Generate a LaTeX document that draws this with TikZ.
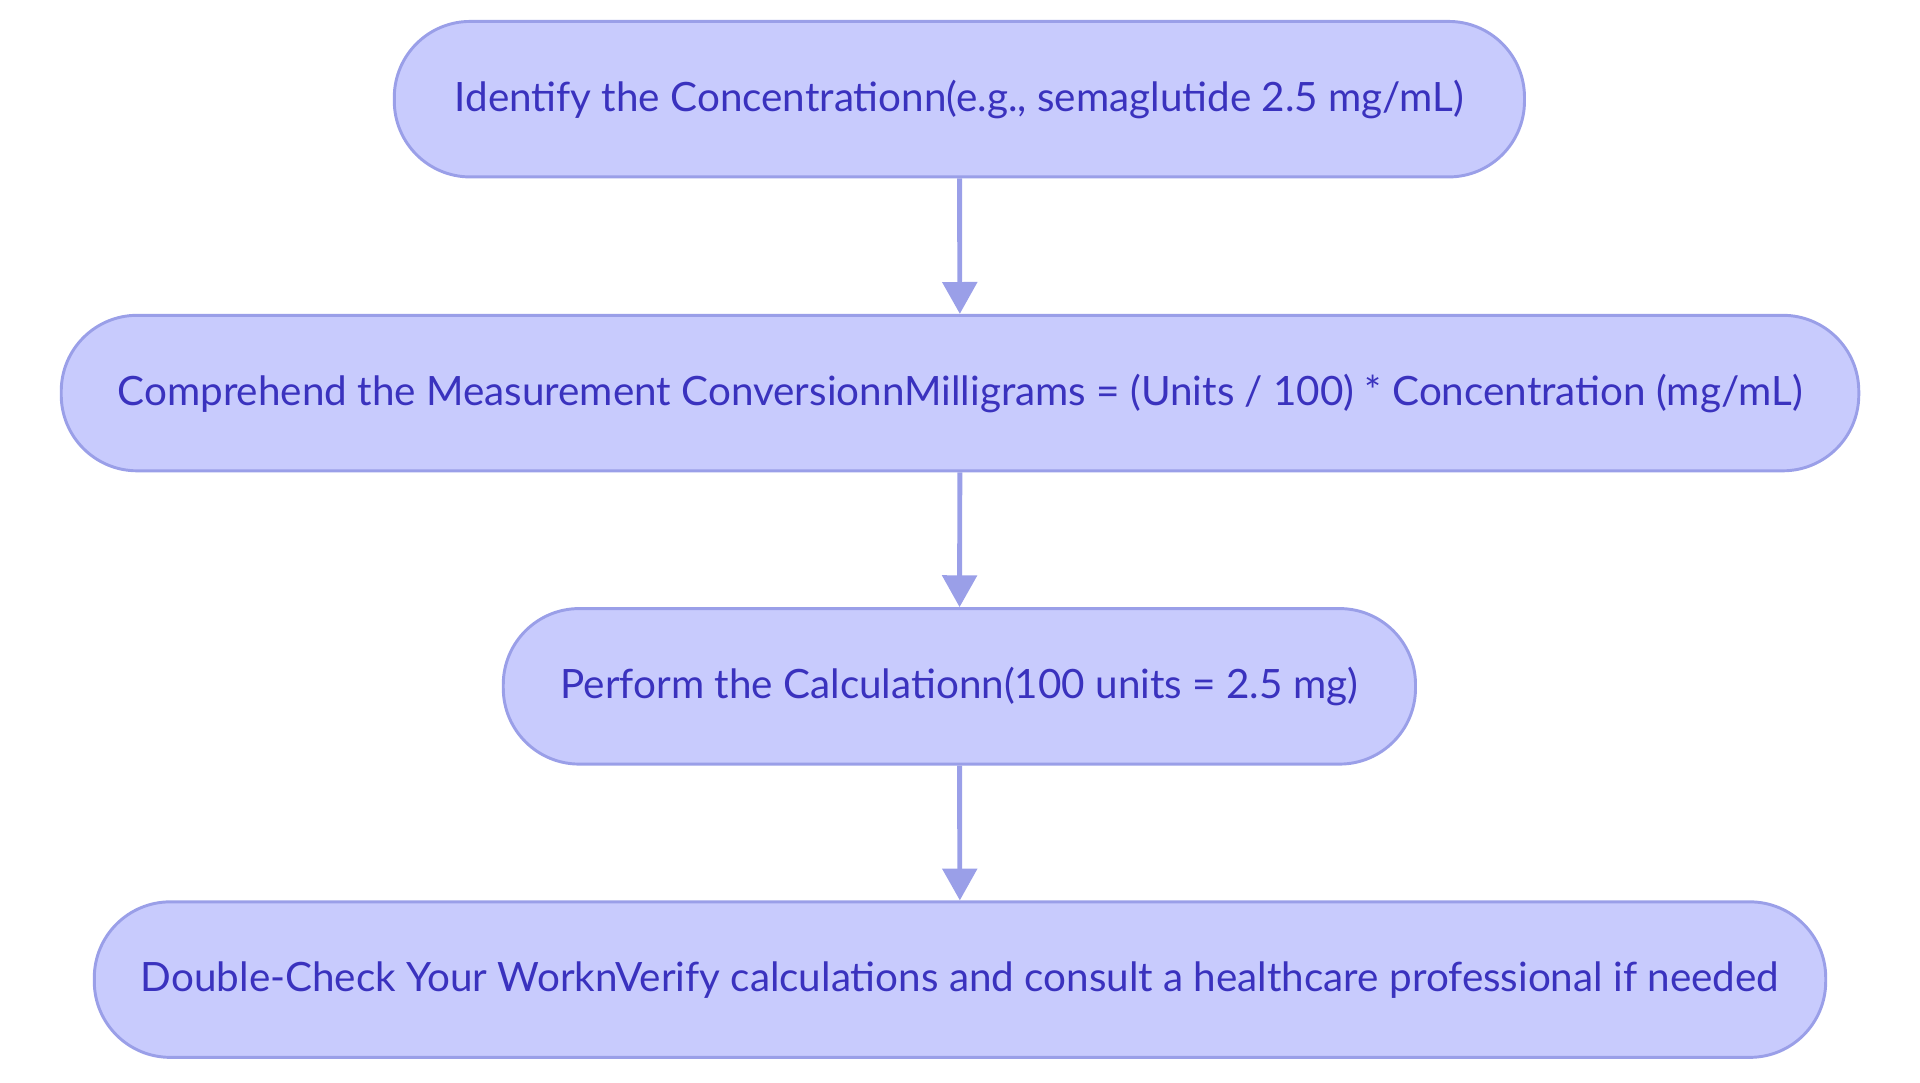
\documentclass[tikz,border=0pt]{standalone}
\usepackage{fontspec}
\setmainfont{Lato}
\usetikzlibrary{arrows.meta}
\definecolor{nfill}{HTML}{C8CBFD}
\definecolor{nline}{HTML}{9A9FE8}
\definecolor{ntext}{HTML}{3A32BE}
\begin{document}
\begin{tikzpicture}[x=0.5pt,y=-0.5pt,
 box/.style={draw=nline,line width=1.2pt,fill=nfill,rounded corners=31pt,text=ntext,font=\fontsize{16.5}{19}\selectfont,minimum height=63.5pt,inner xsep=0pt},
 arr/.style={draw=nline,line width=2pt,-{Triangle[length=13pt,width=14pt]}}]
\useasboundingbox (0,0) rectangle (1568,884);
\node[box,minimum width=461.5pt] (a) at (783.5,81) {Identify the Concentrationn(e.g., semaglutide 2.5 mg/mL)};
\node[box,minimum width=734pt] (b) at (784,321) {Comprehend the Measurement ConversionnMilligrams = (Units / 100) * Concentration (mg/mL)};
\node[box,minimum width=372.5pt] (c) at (783.5,560.5) {Perform the Calculationn(100 units = 2.5 mg)};
\node[box,minimum width=707pt] (d) at (784,800) {Double-Check Your WorknVerify calculations and consult a healthcare professional if needed};
\draw[arr] (a) -- (b);
\draw[arr] (b) -- (c);
\draw[arr] (c) -- (d);
\end{tikzpicture}
\end{document}
